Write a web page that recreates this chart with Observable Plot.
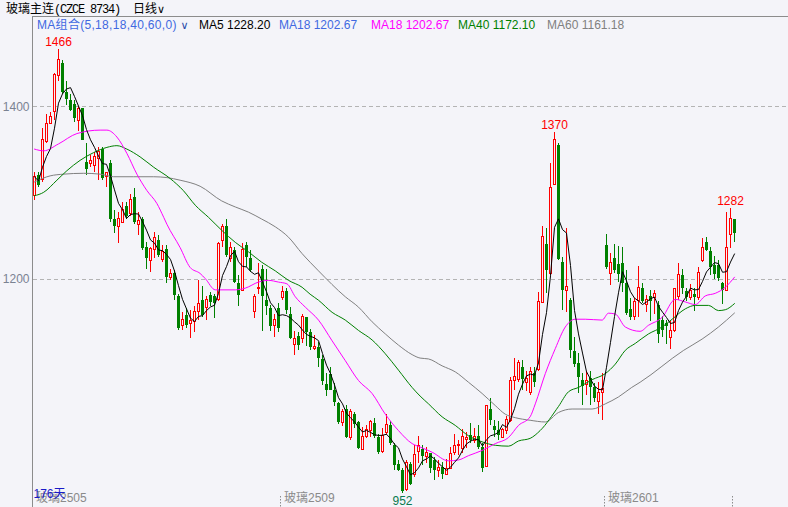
<!DOCTYPE html>
<html><head><meta charset="utf-8">
<script src="https://cdn.jsdelivr.net/npm/d3@7"></script>
<script src="https://cdn.jsdelivr.net/npm/@observablehq/plot@0.6"></script>
<style>
html,body{margin:0;padding:0;background:#f4f4f9;}
#wrap{position:relative;width:788px;height:507px;overflow:hidden;background:#f4f4f9;font-family:"Liberation Sans",Arial,"Noto Sans CJK SC",sans-serif;}
#chart{position:absolute;left:0;top:0;}
.t{position:absolute;white-space:nowrap;font-size:12px;line-height:16px;}
.cjk{font-family:"Noto Sans CJK SC",sans-serif;}
.mono{font-family:"Liberation Mono",monospace;letter-spacing:-1.2px;}
#hline{position:absolute;left:33px;top:16px;width:755px;height:1px;background:#8c8c8c;}
#vline{position:absolute;left:32px;top:16px;width:1px;height:491px;background:#8c8c8c;}
</style></head>
<body><div id="wrap">
<div id="chart"></div>
<div id="hline"></div><div id="vline"></div>
<div class="t" style="left:6px;top:0px;color:#000"><span class="cjk">玻璃主连</span><span class="mono">(CZCE 8734)</span></div>
<div class="t cjk" style="left:133px;top:0px;color:#000">日线<span style="font-family:'DejaVu Sans';font-size:11px">∨</span></div>
<div class="t" style="left:37px;top:17px;color:#4169e1;letter-spacing:0.3px">MA组合(5,18,18,40,60,0)<span style="font-family:'DejaVu Sans';font-size:11px;color:#2a4aa8"> ∨</span></div>
<div class="t" style="left:199px;top:17px;color:#000">MA5 1228.20</div>
<div class="t" style="left:279px;top:17px;color:#4169e1">MA18 1202.67</div>
<div class="t" style="left:371px;top:17px;color:#ff00ff">MA18 1202.67</div>
<div class="t" style="left:458px;top:17px;color:#008000">MA40 1172.10</div>
<div class="t" style="left:547px;top:17px;color:#808080">MA60 1161.18</div>
</div>
<script>
const open  = [1297,1320,1315,1359,1380,1394,1436,1450,1416,1407,1403,1384,1398,1336,1334,1332,1340,1351,1319,1334,
1270,1261,1266,1285,1276,1295,1263,1270,1237,1221,1234,1245,1223,1235,1202,1207,1180,1146,1158,1149,
1151,1162,1176,1167,1181,1180,1176,1245,1261,1224,1234,1195,1187,1239,1224,1162,1189,1212,1176,1166,
1146,1166,1179,1186,1160,1124,1134,1131,1156,1139,1119,1121,1107,1078,1090,1072,1056,1034,1049,1016,
1044,1034,1003,1018,1025,1033,1017,1000,1022,1031,1008,986,979,956,986,974,1000,1003,995,998,
990,978,982,974,981,999,1007,1004,1014,1019,1013,1018,1006,983,1049,1030,1025,1017,1025,1036,
1083,1084,1098,1080,1068,1091,1095,1173,1241,1206,1310,1355,1220,1187,1176,1117,1103,1083,1078,1085,
1075,1058,1068,1239,1206,1224,1217,1218,1195,1165,1156,1175,1189,1171,1180,1178,1170,1153,1149,1132,
1140,1180,1205,1186,1179,1183,1178,1222,1243,1233,1216,1216,1195,1187,1252,1269];
const high  = [1324,1324,1375,1391,1393,1439,1466,1454,1429,1414,1407,1400,1398,1357,1344,1347,1353,1353,1324,1338,
1280,1278,1289,1289,1299,1305,1278,1272,1243,1237,1255,1251,1239,1239,1212,1210,1183,1162,1166,1164,
1169,1199,1192,1180,1185,1183,1243,1264,1269,1243,1237,1205,1242,1243,1234,1183,1219,1216,1212,1170,
1160,1172,1192,1190,1167,1140,1139,1159,1156,1142,1135,1127,1112,1091,1098,1079,1058,1050,1054,1049,
1046,1035,1029,1031,1037,1039,1021,1027,1044,1035,1010,990,981,990,988,1008,1018,1008,1006,999,
994,990,988,991,1005,1021,1014,1026,1023,1033,1028,1031,1010,1054,1062,1037,1035,1028,1041,1087,
1109,1106,1106,1093,1098,1098,1185,1261,1259,1334,1370,1357,1226,1259,1178,1133,1114,1091,1093,1093,
1079,1081,1091,1252,1230,1241,1238,1237,1210,1178,1178,1215,1195,1181,1187,1187,1174,1157,1153,1153,
1190,1219,1212,1190,1194,1190,1214,1248,1249,1237,1227,1222,1197,1278,1282,1269];
const low   = [1291,1306,1312,1357,1379,1384,1429,1414,1401,1394,1382,1371,1361,1320,1330,1324,1315,1315,1307,1266,
1253,1242,1265,1269,1273,1264,1251,1234,1212,1208,1224,1225,1220,1195,1199,1176,1141,1141,1143,1132,
1139,1153,1156,1153,1169,1155,1174,1237,1226,1220,1195,1169,1186,1214,1208,1155,1183,1140,1158,1140,
1133,1139,1176,1160,1131,1112,1118,1126,1122,1118,1118,1098,1077,1064,1071,1053,1032,1030,1016,1013,
1028,1003,1002,1016,1017,1016,997,998,1019,1008,979,978,952,954,961,971,987,985,987,975,
967,971,968,973,980,996,996,998,1004,1010,1010,1003,977,982,1031,1017,1014,1016,1020,1034,
1071,1081,1071,1070,1066,1075,1093,1172,1184,1205,1309,1222,1164,1162,1108,1098,1068,1054,1066,1054,
1058,1044,1037,1212,1193,1207,1197,1185,1158,1153,1152,1156,1172,1162,1151,1160,1126,1133,1125,1119,
1139,1176,1183,1175,1176,1163,1176,1220,1232,1205,1200,1198,1171,1186,1236,1243];
const close = [1319,1309,1362,1380,1388,1437,1454,1416,1408,1396,1386,1398,1361,1327,1337,1342,1348,1317,1323,1270,
1261,1270,1280,1273,1292,1266,1268,1236,1224,1235,1248,1228,1232,1202,1206,1181,1143,1153,1147,1152,
1162,1172,1158,1176,1173,1172,1241,1261,1228,1236,1197,1181,1234,1225,1210,1180,1190,1180,1169,1146,
1153,1143,1185,1164,1132,1131,1124,1156,1139,1121,1122,1108,1082,1071,1072,1057,1034,1046,1017,1046,
1032,1004,1018,1026,1035,1018,1000,1019,1032,1010,985,979,954,988,963,997,1007,995,999,981,
979,982,974,980,998,1007,1008,1018,1017,1014,1018,1006,981,1053,1037,1025,1019,1026,1037,1083,
1087,1103,1084,1085,1093,1081,1174,1249,1211,1306,1362,1223,1187,1191,1118,1102,1087,1076,1083,1075,
1062,1068,1073,1214,1219,1211,1206,1195,1161,1156,1174,1190,1174,1176,1175,1183,1136,1141,1145,1140,
1189,1205,1190,1179,1187,1179,1207,1237,1234,1214,1206,1201,1187,1237,1270,1253];

const ma18Idx = [0,2.3,6,10.6,16.4,18.1,20.6,23.1,25.6,28.1,30.6,32.3,33.1,36.4,38.9,41.4,42.7,45.2,50.2,52.7,56,58.5,61,63.1,65.2,67.7,71,74.4,77.7,81,84.4,87.7,91,94.4,96.4,99.4,103.5,106,108.5,111.9,115.2,118.5,121,123.9,125.2,127.7,130.2,132.7,135.2,137.7,141.9,143.5,145.2,147.7,151.4,153.5,156.9,160.2,162.7,165.2,167.7,170.2,172.7,175];
const ma18Val = [1351,1349,1357,1369,1373,1373,1365,1346,1322,1303,1288,1272,1264,1237,1214,1207,1201,1188,1188,1190,1197,1199,1197,1195,1180,1168,1153,1129,1106,1083,1068,1044,1025,1010,1006,1000,990,991,996,1002,1010,1017,1031,1041,1056,1091,1120,1145,1154,1154,1153,1161,1160,1145,1140,1147,1156,1177,1174,1171,1181,1184,1191,1202.67];
const ma40Idx = [0,2.3,5.6,8.1,11.4,14.8,18.1,20.6,23.1,26.4,29.8,33.9,37.2,40.2,43.5,46.8,50.2,53.5,56.8,60.2,63.5,66.9,68.9,71,74.4,77.7,81,84.4,87.7,91,94.4,96.4,98.5,101.9,105.2,108.5,111.9,115.2,118.5,121,123.9,126.4,131,133.5,136,139.4,142.7,145.2,147.7,150.2,153.5,156.9,159.4,162.7,165.2,168.5,171,172.7,175];
const ma40Val = [1297,1301,1315,1326,1338,1347,1353,1355,1351,1342,1330,1317,1303,1286,1272,1257,1243,1232,1220,1210,1199,1191,1183,1176,1162,1153,1141,1130,1114,1095,1075,1065,1056,1041,1031,1019,1012,1008,1007,1013,1016,1025,1053,1070,1075,1084,1091,1102,1118,1126,1137,1145,1154,1166,1170,1170,1164,1165,1172.1];
const ma60Idx = [0,3.9,7.3,12.3,16.4,19.8,24.8,29.8,33.1,36.4,41.4,46.8,50.2,53.5,56.8,60.2,63.5,66.9,68.9,71,77.7,81,84.4,87.7,91,94.4,96.4,98.5,101.9,105.2,108.5,111.9,115.2,117.7,120.2,123.9,127.7,131,134.4,139.4,142.7,146,149.3,151.4,162.3,166.9,171,175];
const ma60Val = [1313,1320,1322,1323,1322,1319,1319,1319,1318,1315,1308,1291,1284,1278,1270,1261,1249,1230,1220,1210,1180,1168,1151,1137,1124,1113,1109,1108,1100,1093,1081,1068,1054,1044,1040,1037,1035,1046,1050,1050,1056,1064,1075,1081,1118,1131,1145,1161.18];

const yTicks = [1200, 1400];
const contractIdx = [0, 62, 143];
const contractLabels = ["玻璃2505", "玻璃2509", "玻璃2601"];
const tickIdx = [62, 143, 175];
const peakIdx = [6, 130, 174];
const troughIdx = [92];
const dayCount = "176天";

const RED = "#ff0000", GREEN = "#008000", BG = "#f4f4f9";
const candles = open.map((o, i) => ({i, o, h: high[i], l: low[i], c: close[i], up: close[i] >= o}));
const ups = candles.filter(d => d.up), downs = candles.filter(d => !d.up);
const pts = (idx, val) => idx.map((x, k) => ({x, y: val[k]}));
const contracts = contractIdx.map((x, k) => ({x, label: contractLabels[k]}));

const chart = Plot.plot({
  width: 788, height: 507,
  marginTop: 17, marginBottom: 11, marginLeft: 33, marginRight: 0,
  style: {background: "transparent", fontFamily: "Liberation Sans, Arial, 'Noto Sans CJK SC', sans-serif", fontSize: "12px", overflow: "visible"},
  x: {type: "linear", domain: [0, 175], range: [34, 734], axis: null},
  y: {type: "linear", domain: [1200, 1400], range: [279, 106.3], axis: null},
  marks: [
    Plot.ruleY(yTicks, {stroke: "#b4b4b4", strokeDasharray: "4,3", shapeRendering: "crispEdges"}),
    Plot.axisY(yTicks, {anchor: "left", tickSize: 0, tickPadding: 4, tickFormat: d => String(d), fill: "#7a8292", fontSize: 12}),
    Plot.axisX(tickIdx, {anchor: "bottom", tickSize: 11, tickFormat: () => "", dx: -2, stroke: "#8c8c8c", strokeDasharray: "1.5,1.5"}),
    Plot.ruleX(ups, {x: "i", y1: "l", y2: "h", stroke: RED, shapeRendering: "crispEdges"}),
    Plot.ruleX(downs, {x: "i", y1: "l", y2: "h", stroke: GREEN, shapeRendering: "crispEdges"}),
    Plot.rect(downs, {x1: d => d.i - 0.375, x2: d => d.i + 0.375, y1: "o", y2: "c", fill: GREEN, shapeRendering: "crispEdges"}),
    Plot.rect(ups, {x1: d => d.i - 0.25, x2: d => d.i + 0.25, y1: "o", y2: "c", fill: BG, stroke: RED, shapeRendering: "crispEdges"}),
    Plot.line(pts(ma60Idx, ma60Val), {x: "x", y: "y", stroke: "#808080", strokeWidth: 1, curve: "monotone-x"}),
    Plot.line(pts(ma40Idx, ma40Val), {x: "x", y: "y", stroke: "#008000", strokeWidth: 1, curve: "monotone-x"}),
    Plot.line(pts(ma18Idx, ma18Val), {x: "x", y: "y", stroke: "#ff00ff", strokeWidth: 1, curve: "monotone-x"}),
    Plot.lineY(candles, Plot.windowY({k: 5, anchor: "end", reduce: "mean"}, {x: "i", y: "c", stroke: "#000", strokeWidth: 1})),
    Plot.text(peakIdx, {x: d => d, y: d => high[d], text: d => String(high[d]), dy: -8, fill: RED, fontSize: 12}),
    Plot.text(troughIdx, {x: d => d, y: d => low[d], text: d => String(low[d]), dy: 7.5, fill: "#0a7a50", fontSize: 12}),
    Plot.text(contracts, {x: "x", text: "label", frameAnchor: "bottom", textAnchor: "start", dx: 1.5, dy: 5.5, fill: "#8a8a8a", fontSize: 12}),
    Plot.text([dayCount], {text: d => d, frameAnchor: "bottom-left", textAnchor: "start", dy: 1, fill: "#1a1ac8", fontSize: 12})
  ]
});
document.getElementById("chart").appendChild(chart);
</script>
</body></html>
